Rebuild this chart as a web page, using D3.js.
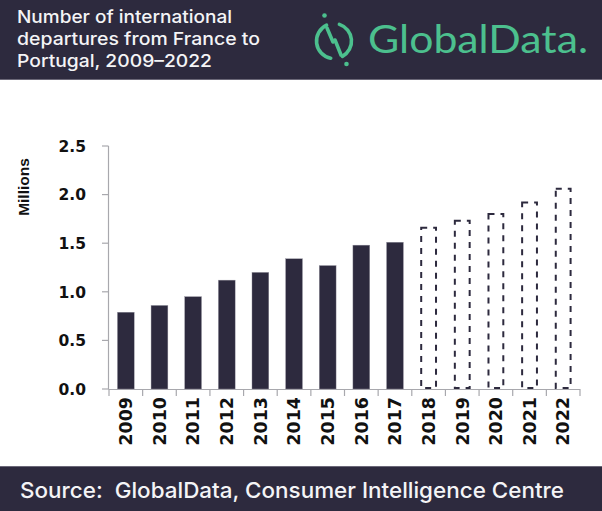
<!DOCTYPE html>
<html>
<head>
<meta charset="utf-8">
<script src="https://cdn.jsdelivr.net/npm/d3@7"></script>
<style>
  html, body { margin: 0; padding: 0; background: #ffffff; }
  svg { display: block; }
</style>
</head>
<body>
<div id="chart"></div>
<script>
// ---- data ----
const years = ["2009","2010","2011","2012","2013","2014","2015","2016","2017","2018","2019","2020","2021","2022"];
const actualValues = [0.79, 0.86, 0.95, 1.12, 1.20, 1.34, 1.27, 1.48, 1.51, null, null, null, null, null];
const forecastValues = [null, null, null, null, null, null, null, null, null, 1.67, 1.74, 1.81, 1.93, 2.07];
const yTicks = [0, 0.5, 1.0, 1.5, 2.0, 2.5];
const titleLines = ["Number of international", "departures from France to", "Portugal, 2009\u20132022"];
const yAxisLabel = "Millions";
const sourceText = "Source:\u00A0 GlobalData, Consumer Intelligence Centre";
const brandText = "GlobalData.";

// ---- setup ----
const W = 602, H = 511;
const dark = "#2d2a3e";
const green = "#4cc08e";
const svg = d3.select("#chart").append("svg").attr("width", W).attr("height", H);

// header
svg.append("rect").attr("x", 0).attr("y", 0).attr("width", W).attr("height", 80).attr("fill", dark);
svg.append("line").attr("x1", 0).attr("x2", W).attr("y1", 79.5).attr("y2", 79.5).attr("stroke", "#6b6878").attr("stroke-width", 1);
const titleWidths = [215, 243, 195];
titleLines.forEach((t, i) => {
  svg.append("text")
    .attr("x", 17).attr("y", 23 + i * 22)
    .attr("font-family", "Inter, 'Noto Sans', sans-serif")
    .attr("font-weight", 500)
    .attr("font-size", 17.5)
    .attr("fill", "#f4f4f6")
    .attr("textLength", titleWidths[i])
    .attr("lengthAdjust", "spacingAndGlyphs")
    .text(t);
});

// logo icon
const logo = svg.append("g").attr("fill", "none").attr("stroke", green).attr("stroke-width", 3.6).attr("stroke-linecap", "round");
const cx = 334, cy = 41, r = 17.5;
function arcPath(a0, a1, ccw) {
  const p = d3.path();
  p.arc(cx, cy, r, a0, a1, ccw);
  return p.toString();
}
logo.append("path").attr("d", arcPath(-Math.PI*0.64, Math.PI*0.56, true));
logo.append("path").attr("d", arcPath(-Math.PI*0.40, Math.PI*0.34, false));
logo.append("path").attr("d", `M${cx-7},${cy-13} L${cx-1},${cy+1}`);
logo.append("path").attr("d", `M${cx+1},${cy-1} L${cx+7},${cy+14}`);
svg.append("circle").attr("cx", 324.5).attr("cy", 15.5).attr("r", 2.3).attr("fill", green);
svg.append("circle").attr("cx", 346.5).attr("cy", 64).attr("r", 2.3).attr("fill", green);
svg.append("text")
  .attr("x", 368).attr("y", 53)
  .attr("font-family", "Lato, 'Open Sans', sans-serif")
  .attr("font-weight", 400)
  .attr("font-size", 39)
  .attr("fill", green)
  .attr("textLength", 220)
  .attr("lengthAdjust", "spacingAndGlyphs")
  .text(brandText);

// ---- scales ----
const x = d3.scaleBand().domain(years).range([109, 580]).paddingInner(0.5).paddingOuter(0.25);
const y = d3.scaleLinear().domain([0, 2.5]).range([389, 146]);

// y axis
const axisColor = "#a8a8ad";
svg.append("line").attr("x1", 108.5).attr("x2", 108.5).attr("y1", y(2.5)).attr("y2", y(0)).attr("stroke", axisColor).attr("stroke-width", 1.2);
yTicks.forEach(t => {
  svg.append("line").attr("x1", 102).attr("x2", 108.5).attr("y1", y(t)).attr("y2", y(t)).attr("stroke", axisColor).attr("stroke-width", 1.2);
  svg.append("text")
    .attr("x", 86).attr("y", y(t) + 5.7)
    .attr("text-anchor", "end")
    .attr("font-family", "'DejaVu Sans', sans-serif")
    .attr("font-weight", "bold")
    .attr("font-size", 15.5)
    .attr("fill", "#111")
    .text(t.toFixed(1));
});

svg.append("text")
  .attr("transform", `translate(29,187) rotate(-90)`)
  .attr("text-anchor", "middle")
  .attr("font-family", "'Liberation Sans', Arial, sans-serif")
  .attr("font-weight", "bold")
  .attr("font-size", 15.5)
  .attr("fill", "#111")
  .text(yAxisLabel);

// x axis
const step = x.step();
const x0 = 109;
svg.append("line").attr("x1", 108.5).attr("x2", x0 + step * years.length).attr("y1", y(0) + 0.5).attr("y2", y(0) + 0.5).attr("stroke", axisColor).attr("stroke-width", 1.2);
d3.range(years.length + 1).forEach(i => {
  const xx = x0 + step * i;
  svg.append("line").attr("x1", xx).attr("x2", xx).attr("y1", y(0)).attr("y2", y(0) + 7).attr("stroke", axisColor).attr("stroke-width", 1.2);
});
years.forEach(yr => {
  const c = x(yr) + x.bandwidth() / 2;
  svg.append("text")
    .attr("transform", `translate(${c + 6.3},397) rotate(-90)`)
    .attr("text-anchor", "end")
    .attr("font-family", "'DejaVu Sans', sans-serif")
    .attr("font-weight", "bold")
    .attr("font-size", 17.5)
    .attr("fill", "#111")
    .text(yr);
});

// bars
svg.append("g").selectAll("rect")
  .data(years.map((yr, i) => ({ yr, v: actualValues[i] })).filter(d => d.v != null))
  .join("rect")
  .attr("x", d => x(d.yr))
  .attr("y", d => y(d.v))
  .attr("width", x.bandwidth())
  .attr("height", d => y(0) - y(d.v))
  .attr("fill", dark)
  .attr("stroke", "#9a98a4")
  .attr("stroke-width", 0.4);

svg.append("g").selectAll("rect")
  .data(years.map((yr, i) => ({ yr, v: forecastValues[i] })).filter(d => d.v != null))
  .join("rect")
  .attr("x", d => x(d.yr) + 1)
  .attr("y", d => y(d.v) + 1)
  .attr("width", x.bandwidth() - 2)
  .attr("height", d => y(0) - y(d.v) - 2)
  .attr("fill", "#ffffff")
  .attr("stroke", dark)
  .attr("stroke-width", 2)
  .attr("stroke-dasharray", "6,6");

// footer
svg.append("rect").attr("x", 0).attr("y", 466).attr("width", W).attr("height", H - 466).attr("fill", dark);
svg.append("line").attr("x1", 0).attr("x2", W).attr("y1", 466.5).attr("y2", 466.5).attr("stroke", "#6b6878").attr("stroke-width", 1);
svg.append("text")
  .attr("x", 20).attr("y", 498)
  .attr("font-family", "Inter, 'Noto Sans', sans-serif")
  .attr("font-weight", 500)
  .attr("font-size", 22)
  .attr("fill", "#f4f4f6")
  .attr("textLength", 544)
  .attr("lengthAdjust", "spacingAndGlyphs")
  .text(sourceText);
</script>
</body>
</html>
